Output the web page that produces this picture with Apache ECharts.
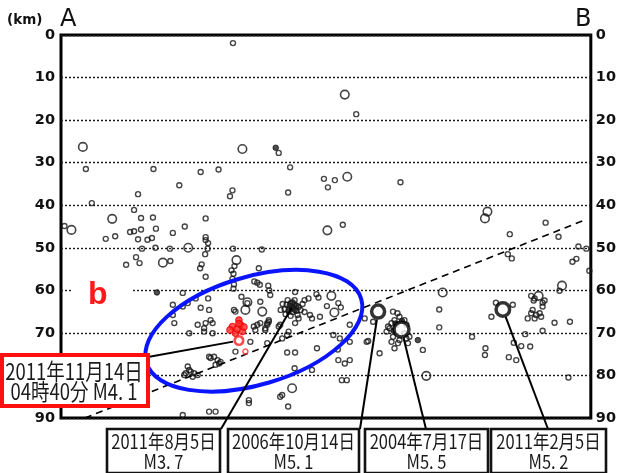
<!DOCTYPE html>
<html>
<head>
<meta charset="utf-8">
<script src="https://cdn.jsdelivr.net/npm/echarts@6/dist/echarts.min.js"></script>
<style>
html, body { margin: 0; padding: 0; background: #fff; }
#chart { width: 619px; height: 473px; }
</style>
</head>
<body>
<div id="chart"></div>
<script>
// Depth cross-section A–B: hypocentres projected onto the profile.
const depthTicks = [0, 10, 20, 30, 40, 50, 60, 70, 80, 90];
const sectionLength = 106.6; // km along the profile

// [distance km, depth km]
const smallQuakes = [
  [34.6,1.9],[59.4,18.6],[43.8,27.7],[5.0,31.5],[18.6,31.5],[28.1,32.2],[23.8,35.3],[15.5,37.4],[6.2,39.5],[14.7,41.1],
  [16.1,43.0],[18.5,42.9],[24.9,45.0],[0.7,44.9],[16.1,45.7],[19.1,45.5],[13.9,46.3],[14.7,46.1],[22.5,46.5],[9.0,47.9],
  [10.9,47.3],[15.5,48.0],[17.4,48.1],[18.3,47.7],[16.3,50.2],[21.9,50.2],[13.1,54.0],[15.1,52.2],[15.8,53.6],[22.0,53.1],
  [29.1,43.1],[29.1,47.5],[29.1,48.2],[29.6,48.9],[29.5,50.2],[29.0,51.5],[28.3,53.9],[28.0,54.8],[29.1,56.8],
  [31.7,31.6],[46.1,31.1],[52.9,33.8],[55.1,34.1],[53.7,35.8],[68.3,34.6],[34.5,36.5],[34.0,37.9],[45.7,37.0],[56.7,44.6],
  [34.6,50.2],[40.4,50.4],[34.9,54.3],[34.3,55.3],[34.7,56.1],[34.5,57.3],[34.8,58.6],[34.7,59.6],[39.8,54.8],[38.9,57.9],
  [39.5,58.2],[40.0,58.7],[41.7,58.9],[41.9,60.0],[42.1,61.1],[36.3,61.5],[40.1,62.7],[28.1,64.1],[29.6,61.9],[47.1,60.4],
  [51.4,60.9],[49.8,61.9],[49.0,62.3],[51.8,61.7],[53.5,63.7],[55.8,63.0],[56.3,64.0],
  [19.0,50.0],[24.5,60.6],[27.1,61.9],[22.5,63.4],[24.5,63.8],[25.5,63.0],[29.8,64.6],[35.1,65.0],[34.8,64.6],[22.5,65.8],
  [22.8,67.7],[27.5,68.1],[28.8,68.9],[30.1,67.0],[30.5,67.7],[25.8,70.1],[38.8,68.5],[39.1,69.3],[41.1,69.3],[41.5,67.7],
  [38.1,72.1],[41.5,72.4],[35.1,74.4],
  [29.8,75.6],[30.1,75.9],[30.8,75.6],[31.5,76.4],[31.8,77.2],[32.1,76.8],[31.1,77.5],
  [25.5,77.9],[25.8,78.7],[25.1,79.5],[24.8,79.9],[26.1,79.1],[26.8,79.5],[27.5,79.9],[26.5,80.3],
  [37.8,85.8],[37.8,86.5],[29.8,88.5],[31.1,88.5],[24.5,89.3],
  [37.5,63.0],[29.1,67.7],[28.8,69.7],[30.5,70.1],[44.1,68.1],[39.5,68.1],[40.1,67.7],[41.8,67.0],[45.5,70.5],[45.8,69.7],
  [45.5,74.6],[47.1,74.6],[51.5,73.6],[55.8,76.4],[57.1,77.2],[58.1,76.4],[58.1,72.1],[61.5,72.1],[54.8,70.5],[64.1,74.8],
  [50.5,78.7],[44.1,85.0],[44.5,84.6],[45.7,87.3],[56.5,81.1],[57.5,81.1],
  [50.1,65.8],[50.5,66.6],[41.8,67.4],[41.5,68.1],[41.1,68.9],[47.8,66.6],[47.1,67.7],[43.8,68.5],[44.5,71.3],[52.1,66.2],
  [58.1,68.1],[61.1,66.6],[56.1,71.3],[55.7,73.9],[47.0,78.3],
  [45.4,63.4],[46.2,63.0],[47.0,63.4],[47.8,63.9],[45.8,64.6],[46.6,65.1],[47.4,64.8],[45.0,64.4],[48.2,64.6],[46.2,66.0],
  [47.0,62.3],[45.6,62.3],[44.6,63.2],[48.6,63.2],[46.8,64.1],[47.6,65.8],[45.2,65.6],[44.2,64.6],[49.0,65.1],
  [62.8,67.4],[66.8,65.0],[67.7,65.4],[68.1,66.2],[67.1,67.0],[66.5,67.7],[66.1,68.9],[65.5,69.7],[65.8,68.5],[67.5,68.1],
  [69.1,67.0],[69.5,68.1],[66.8,70.9],[66.5,72.1],[67.1,73.6],[67.8,72.4],[68.1,71.7],[69.5,71.3],[69.8,72.4],[70.1,70.9],
  [69.1,70.1],[61.8,71.9],[72.8,74.0],[76.1,64.5],[76.1,68.7],
  [82.7,70.9],[86.6,66.2],[87.5,62.9],[90.9,63.4],[85.4,73.6],[85.3,75.2],[90.1,75.7],[91.6,76.4],[91.1,72.3],[92.6,73.1],
  [94.4,73.2],[93.4,70.3],[96.9,69.5],[99.3,67.6],[102.4,67.4],[94.9,64.6],[94.6,65.4],[95.6,65.8],[96.3,65.4],[96.6,66.2],
  [95.3,66.6],[93.9,66.6],[96.9,63.8],[95.1,62.4],[96.9,62.9],[102.1,80.5],
  [97.5,44.1],[90.3,46.8],[100.1,47.4],[104.1,49.7],[105.7,50.2],[89.9,51.5],[90.7,52.5],[102.9,53.3],[103.7,52.6],[106.3,55.4],
  [100.3,60.1],[94.6,61.3],[95.3,61.9],[97.3,62.4]
];
const mediumQuakes = [
  [57.1,14.0],[4.4,26.3],[36.5,26.8],[10.3,43.2],[2.1,45.8],[25.6,50.0],[20.5,53.5],[57.6,33.3],[53.6,45.9],[35.3,52.9],
  [37.5,62.8],[54.4,61.3],[37.1,64.6],[40.5,65.0],[55.0,65.2],[46.5,83.0],[76.8,60.5],[73.5,80.1],[85.8,41.5],[85.3,43.1],
  [100.8,58.9],[96.1,61.3]
];
const filledQuakes = [
  [43.2,26.5],[19.3,60.5],[71.8,71.7],
  [46.4,64.1],[46.0,63.6],[47.0,64.6],[45.8,65.0],[47.4,63.6],[46.6,62.8],
  [67.3,67.8],[66.9,69.5],[68.6,67.2]
];

// 2011-11-14 sequence
const featuredCluster = [[35.8,67.0],[34.5,68.5],[36.1,68.1],[35.1,70.1],[36.5,69.7],[35.4,69.1],[34.0,69.3],[36.8,68.6],[35.8,67.8]];
const featuredMain = [35.8, 71.8];
const featuredAfter = [[37.1,74.4]];
const featuredDate = '2011年11月14日';
const featuredTime = '04時40分';
const featuredMag = 4.1;

// labelled past events
const eventDates = ['2011年8月5日', '2006年10月14日', '2004年7月17日', '2011年2月5日'];
const eventMags = [3.7, 5.1, 5.5, 5.2];
const eventPoints = [[46.4,64.1],[63.8,65.0],[68.5,69.2],[88.9,64.5]];

// upper surface of the slab
const slabLine = [[4.8,90],[104.9,43.7]];

// region of interest (centre in km)
const regionCentre = [38.8, 69.5];

const fmtMag = m => 'M' + m.toFixed(1).replace('.', '. ');

const chart = echarts.init(document.getElementById('chart'), null, { renderer: 'canvas' });

const hollow = (size, width) => ({
  type: 'scatter',
  symbol: 'circle',
  symbolSize: size,
  silent: true,
  itemStyle: { color: 'rgba(255,255,255,0)', borderColor: '#151515', borderWidth: width }
});

const yAxisBase = {
  type: 'value',
  inverse: true,
  min: depthTicks[0],
  max: depthTicks[depthTicks.length - 1],
  interval: depthTicks[1] - depthTicks[0],
  axisLine: { show: false },
  axisTick: { show: false },
  axisLabel: {
    fontFamily: 'DejaVu Sans', fontWeight: 'bold', fontSize: 14.5, color: '#111',
    formatter: v => depthTicks.includes(v) ? String(v) : ''
  }
};

const majorData = eventPoints
  .map((p, i) => [p[0], p[1], eventMags[i]])
  .filter(d => d[2] >= 5);

chart.setOption({
  animation: false,
  backgroundColor: '#fff',
  grid: { left: 61, right: 25, top: 35, bottom: 55, show: true, borderColor: '#000', borderWidth: 3, backgroundColor: 'transparent' },
  xAxis: { type: 'value', min: 0, max: sectionLength, show: false },
  yAxis: [
    Object.assign({}, yAxisBase, {
      position: 'left',
      axisLabel: Object.assign({}, yAxisBase.axisLabel, { margin: 6 }),
      splitLine: { show: true, lineStyle: { type: [2, 2], color: '#1a1a1a', width: 1.4 } }
    }),
    Object.assign({}, yAxisBase, {
      position: 'right',
      axisLabel: Object.assign({}, yAxisBase.axisLabel, { margin: 5 }),
      splitLine: { show: false }
    })
  ],
  series: [
    {
      type: 'line', data: slabLine, symbol: 'none', silent: true, z: 3,
      lineStyle: { color: '#000', width: 1.6, type: [7, 5] }
    },
    Object.assign(hollow(5, 1.4), { data: smallQuakes }),
    Object.assign(hollow(8.5, 1.6), { data: mediumQuakes }),
    {
      type: 'scatter', data: filledQuakes, symbolSize: 5.5, silent: true,
      itemStyle: { color: '#222', borderColor: '#111', borderWidth: 1 }
    },
    {
      type: 'scatter', data: majorData, silent: true, z: 4,
      symbolSize: d => 10 + (d[2] - 4.5) * 5,
      itemStyle: { color: '#fff', borderColor: '#000', borderWidth: 3.5 }
    },
    {
      type: 'scatter', data: featuredCluster, symbolSize: 6.5, silent: true, z: 5,
      itemStyle: { color: '#ff2a2a', borderColor: '#ee0000', borderWidth: 1.2 }
    },
    {
      type: 'scatter', data: [featuredMain], symbolSize: 8.5, silent: true, z: 5,
      itemStyle: { color: 'rgba(255,255,255,0)', borderColor: '#ff1a1a', borderWidth: 2.6 }
    },
    {
      type: 'scatter', data: featuredAfter, symbolSize: 5, silent: true, z: 5,
      itemStyle: { color: 'rgba(255,255,255,0)', borderColor: '#ff3030', borderWidth: 1.5 }
    }
  ]
});

// annotation layer
const toPx = p => chart.convertToPixel({ xAxisIndex: 0, yAxisIndex: 0 }, p);

const boxTop = 429, boxH = 44;
const boxLayout = [
  { x: 107, w: 113, ax: 221 },
  { x: 228, w: 131, ax: 360 },
  { x: 365, w: 123, ax: 426 },
  { x: 491, w: 115, ax: 548 }
];
const targetRadius = [0, 8, 9, 8];
const labelFont = 'Noto Sans CJK JP';

function shorten(from, to, r) {
  const dx = to[0] - from[0], dy = to[1] - from[1];
  const len = Math.sqrt(dx * dx + dy * dy);
  return [to[0] - dx / len * r, to[1] - dy / len * r];
}

function label(text, x, y, size, opts) {
  return Object.assign({
    type: 'text', x: x, y: y, z: 120, scaleY: 1.2,
    style: {
      text: text, x: 0, y: 0, fill: '#1a1a1a',
      font: size + 'px "' + labelFont + '"',
      align: 'center', verticalAlign: 'middle',
      textAlign: 'center', textVerticalAlign: 'middle'
    }
  }, opts || {});
}

const graphics = [];

// region ellipse
const ec = toPx(regionCentre);
graphics.push({
  type: 'ellipse', x: ec[0], y: ec[1], rotation: 16.5 * Math.PI / 180, z: 90,
  shape: { cx: 0, cy: 0, rx: 112, ry: 54 },
  style: { fill: 'none', stroke: '#0a14ff', lineWidth: 4 }
});

// callouts for past events
eventPoints.forEach((p, i) => {
  const b = boxLayout[i];
  const start = [b.ax, boxTop];
  const end = shorten(start, toPx(p), targetRadius[i]);
  graphics.push({
    type: 'line', z: 95,
    shape: { x1: start[0], y1: start[1], x2: end[0], y2: end[1] },
    style: { stroke: '#000', lineWidth: 2 }
  });
  graphics.push({
    type: 'rect', z: 110,
    shape: { x: b.x, y: boxTop, width: b.w, height: boxH },
    style: { fill: '#fff', stroke: '#111', lineWidth: 2.6 }
  });
  const cx = b.x + b.w / 2;
  graphics.push(label(eventDates[i], cx, boxTop + 12.5, 16.5));
  graphics.push(label(fmtMag(eventMags[i]), cx, boxTop + 32, 16.5));
});

// featured event callout
const fm = toPx(featuredMain);
const fStart = [148, 357];
const fEnd = shorten(fStart, fm, 6);
graphics.push({
  type: 'line', z: 95,
  shape: { x1: fStart[0], y1: fStart[1], x2: fEnd[0], y2: fEnd[1] },
  style: { stroke: '#000', lineWidth: 2 }
});
graphics.push({
  type: 'rect', z: 110,
  shape: { x: 2, y: 355, width: 146, height: 51 },
  style: { fill: '#fff', stroke: '#ff1010', lineWidth: 4 }
});
graphics.push(label(featuredDate, 74, 371.5, 18.5));
graphics.push(label(featuredTime + ' ' + fmtMag(featuredMag), 74, 392, 18.5));

// panel letter
graphics.push({
  type: 'rect', z: 100,
  shape: { x: 72, y: 285, width: 61, height: 11 },
  style: { fill: '#fff' }
});
graphics.push({
  type: 'text', x: 88, y: 295, z: 101,
  style: {
    text: 'b', fill: '#ff1a1a', font: 'bold 32px "Liberation Sans"',
    align: 'left', verticalAlign: 'middle', textAlign: 'left', textVerticalAlign: 'middle'
  }
});

// profile ends and unit
graphics.push({
  type: 'text', x: 7, y: 20, z: 101,
  style: { text: '(km)', fill: '#111', font: 'bold 13.5px "DejaVu Sans"', align: 'left', verticalAlign: 'middle', textAlign: 'left', textVerticalAlign: 'middle' }
});
graphics.push({
  type: 'text', x: 60, y: 19.5, z: 101,
  style: { text: 'A', fill: '#111', font: '24px "DejaVu Sans"', align: 'left', verticalAlign: 'middle', textAlign: 'left', textVerticalAlign: 'middle' }
});
graphics.push({
  type: 'text', x: 575, y: 19.5, z: 101,
  style: { text: 'B', fill: '#111', font: '24px "DejaVu Sans"', align: 'left', verticalAlign: 'middle', textAlign: 'left', textVerticalAlign: 'middle' }
});

chart.setOption({ graphic: { elements: graphics } });
</script>
</body>
</html>
